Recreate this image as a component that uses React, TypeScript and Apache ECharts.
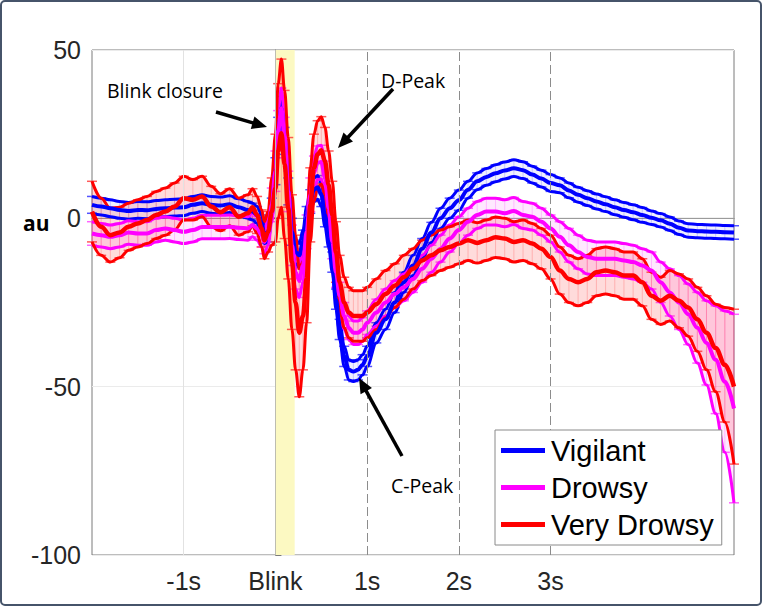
import React, { useEffect, useRef } from 'react';
import * as echarts from 'echarts';

// time axis in seconds relative to blink onset
const times = [
  -2, -1.9, -1.8, -1.7, -1.6, -1.5, -1.4, -1.3, -1.2, -1.1, -1, -0.9, -0.8, -0.7, -0.6, -0.5, -0.4,
  -0.3, -0.25, -0.2, -0.15, -0.12, -0.08, -0.04, 0, 0.03, 0.065, 0.1, 0.14, 0.18, 0.22, 0.26, 0.3,
  0.34, 0.38, 0.42, 0.46, 0.5, 0.54, 0.58, 0.62, 0.66, 0.7, 0.75, 0.8, 0.85, 0.9, 0.95, 1,
  1.1, 1.2, 1.3, 1.4, 1.5, 1.6, 1.7, 1.8, 1.9, 2, 2.1, 2.2, 2.3, 2.4, 2.5, 2.6, 2.7, 2.8, 2.9, 3,
  3.1, 3.2, 3.3, 3.4, 3.5, 3.6, 3.7, 3.8, 3.9, 4, 4.1, 4.2, 4.3, 4.4, 4.5, 4.6, 4.7, 4.8, 4.9, 5,
];

const vigilantMean = [
  4, 3.5, 3, 2.5, 2.2, 2.5, 2.4, 2.8, 3, 3.2, 3.3, 4, 4.5, 4, 3.8, 4.2, 3.3,
  2.5, 2, 1, -1.5, -5, -4, 3, 14, 26, 32.7, 23, 8, -4, -10, -11, -7,
  0, 5, 8.5, 9.2, 7, 1, -5, -13, -24, -33, -41, -45, -45.5, -45, -43.5, -41,
  -34, -30, -25, -19, -14, -9, -4.2, 0, 3, 5.4, 8.5, 11, 12.3, 13.4, 14.2, 14.9, 14.3, 13, 11.8, 10.5,
  9.8, 8.3, 7, 6, 5, 4.2, 3.3, 2.5, 1.8, 1, 0.2, -0.6, -1.6, -2.8, -3.6, -3.8, -3.9, -4, -4.1, -4.2,
];
const vigilantStd = [
  2.5, 2.5, 2.5, 2.5, 2.5, 2.5, 2.5, 2.5, 2.5, 2.5, 2.5, 2.5, 2.5, 2.5, 2.5, 2.5, 2.5,
  2.5, 2.5, 2.5, 2.5, 2.5, 3, 3, 4, 4, 3.5, 4, 4, 4, 3.5, 3.5, 3.5,
  3.5, 3.5, 3.5, 3.5, 3.5, 3.5, 3.5, 3, 3, 3, 3, 3, 3, 3, 3, 3,
  3, 3, 3, 3, 3, 3, 3, 3, 3, 3, 2.5, 2.5, 2.5, 2.5, 2.5, 2.5, 2.5, 2.5, 2.5, 2.5,
  2.2, 2.2, 2.2, 2.2, 2.2, 2.2, 2.2, 2.2, 2.2, 2.2, 2, 2, 2, 2, 2, 2, 2, 2, 2, 2,
];

const drowsyMean = [
  -4.5, -5, -5.5, -5, -4.2, -4.5, -4.5, -3.5, -3, -3.5, -4, -3.5, -2.6, -2.6, -2.6, -2.5, -2.8,
  -3, -2, -3, -5, -7, -4, 4, 14, 26, 32.7, 24, 8, -8, -16, -18.5, -14,
  -4, 7, 13.5, 16.5, 16.7, 12, 3, -7, -16, -23, -29, -32.5, -34, -34, -33, -31,
  -28, -25, -22.5, -20.5, -18, -15, -12, -9, -6, -3.5, -1, 1, 2, 2, 1.5, 2.2, 1, 0.5, -1, -3,
  -5.5, -8, -10, -11.5, -12, -12, -12, -12.5, -13, -14, -15.5, -19, -22, -25, -28.5, -32.5, -37, -42, -48.5, -56.5,
];
const drowsyStd = [
  3.5, 3.5, 3.5, 3.5, 3.5, 3.5, 3.5, 3.5, 3.5, 3.5, 3.5, 3.5, 3.5, 3.5, 3.5, 3.5, 3.5,
  3.5, 3.5, 3.5, 3.5, 3.5, 4, 5, 6, 6, 6, 6, 6, 6, 5, 5, 5,
  5, 5, 5, 5, 5, 5, 5, 5, 4.5, 4, 4, 3.5, 3.5, 3.5, 3.5, 3.5,
  4, 4, 4, 4, 4, 4, 4, 4, 4, 4, 4, 4, 4, 4, 4, 4, 4, 4, 4, 4,
  4.5, 5, 5, 5, 5, 5, 5, 5, 5, 5, 5.5, 6, 7, 8, 9, 10.5, 12.5, 16, 21, 28,
];

const veryDrowsyMean = [
  2, -2.5, -5, -4.2, -2.5, -1.5, -0.5, 1, 2, 3.5, 6, 5.5, 6.5, 3.5, 1.8, 3.3, 0.5,
  1.5, 3.3, 1, -3, -6.5, -4, 2, 9, 20, 25.3, 16, 3, -13, -25, -34, -29,
  -18, 4, 15, 19, 20.2, 17, 10, 1, -10, -19, -25, -28, -29, -29, -29, -28,
  -25.5, -22.5, -20, -17.5, -15, -12.5, -11, -9.5, -8.5, -7.5, -6.5, -7.3, -6.5, -5.6, -6, -7, -6.5, -7.5, -9, -11.5,
  -15.5, -18, -19, -18, -16, -15.5, -16, -17, -17, -19, -23, -24.5, -23, -24.5, -26.5, -30, -34, -38.5, -43.5, -50,
];
const veryDrowsyStd = [
  9, 8.5, 8, 7.5, 7, 7, 7, 7, 7, 7, 6.5, 6, 6, 6, 5.5, 5.5, 5.5,
  5.5, 5.5, 5.5, 5.5, 5.5, 6, 10, 16, 20, 22, 22, 21, 20, 20, 19, 16,
  13, 11, 10, 10, 10, 10, 10, 10, 9, 8, 7.5, 7.5, 7.5, 7.5, 7.5, 7.5,
  7.5, 7, 6.5, 6.5, 6, 6, 6, 6, 6, 6, 6, 6, 6, 6, 6, 6, 6, 6, 6, 6.5,
  7, 7, 7, 7, 7, 7, 7, 7, 7, 7, 7, 7, 7.5, 8, 8.5, 9.5, 11, 13, 17, 23,
];

const xTickValues = [-1, 0, 1, 2, 3];
const xTickLabels = ['-1s', 'Blink', '1s', '2s', '3s'];
const legendNames = ['Vigilant', 'Drowsy', 'Very Drowsy'];

const FONT = "'Liberation Sans', Arial, Helvetica, sans-serif";
const NOTE_FONT = "'Open Sans', 'Noto Sans', sans-serif";

function bandSeries(name: string, mean: number[], std: number[], fill: string, hatch: string, cap: string) {
  const lo = mean.map((m, i) => m - std[i]);
  const hi = mean.map((m, i) => m + std[i]);
  return {
    type: 'custom',
    name: name + ' band',
    silent: true,
    z: 2,
    clip: false,
    data: times.map((t, i) => [t, lo[i], hi[i]]),
    encode: { x: 0, y: [1, 2] },
    renderItem: (params: any, api: any) => {
      const i = params.dataIndex;
      const children: any[] = [];
      if (i === 0) {
        const top = times.map((t, k) => api.coord([t, hi[k]]));
        const bot = times.map((t, k) => api.coord([t, lo[k]])).reverse();
        children.push({
          type: 'polygon',
          shape: { points: top.concat(bot) },
          style: { fill, stroke: 'none' },
        });
      }
      const pHi = api.coord([times[i], hi[i]]);
      const pLo = api.coord([times[i], lo[i]]);
      children.push({
        type: 'line',
        shape: { x1: pHi[0], y1: pHi[1], x2: pLo[0], y2: pLo[1] },
        style: { stroke: hatch, lineWidth: 1 },
      });
      children.push({
        type: 'line',
        shape: { x1: pHi[0] - 5, y1: pHi[1], x2: pHi[0] + 5, y2: pHi[1] },
        style: { stroke: cap, lineWidth: 1.5 },
      });
      children.push({
        type: 'line',
        shape: { x1: pLo[0] - 5, y1: pLo[1], x2: pLo[0] + 5, y2: pLo[1] },
        style: { stroke: cap, lineWidth: 1.5 },
      });
      return { type: 'group', children };
    },
  };
}

function lineSeries(name: string, values: number[], color: string, width: number, z: number) {
  return {
    type: 'line',
    name,
    data: times.map((t, i) => [t, values[i]]),
    showSymbol: false,
    symbol: 'none',
    smooth: 0.35,
    smoothMonotone: 'x',
    color,
    lineStyle: { color, width },
    z,
    silent: true,
  };
}

function groupSeries(
  name: string, mean: number[], std: number[], color: string,
  fill: string, hatch: string, cap: string, meanWidth: number, boundWidth: number,
) {
  const up = mean.map((m, i) => m + std[i]);
  const dn = mean.map((m, i) => m - std[i]);
  return [
    bandSeries(name, mean, std, fill, hatch, cap),
    lineSeries(name + ' upper', up, color, boundWidth, 3),
    lineSeries(name + ' lower', dn, color, boundWidth, 3),
    lineSeries(name, mean, color, meanWidth, 4),
  ];
}

function arrow(x1: number, y1: number, x2: number, y2: number) {
  const dx = x2 - x1;
  const dy = y2 - y1;
  const L = Math.hypot(dx, dy);
  const ux = dx / L;
  const uy = dy / L;
  const hl = 15;
  const hw = 6.5;
  const bx = x2 - ux * hl;
  const by = y2 - uy * hl;
  return [
    { type: 'line', shape: { x1, y1, x2: bx + ux * 2, y2: by + uy * 2 }, style: { stroke: '#000', lineWidth: 3.5 }, z: 100 },
    {
      type: 'polygon',
      shape: { points: [[x2, y2], [bx - uy * hw, by + ux * hw], [bx + uy * hw, by - ux * hw]] },
      style: { fill: '#000' },
      z: 100,
    },
  ];
}

export default function App() {
  const ref = useRef<HTMLDivElement>(null);

  useEffect(() => {
    if (!ref.current) return;
    const chart = echarts.init(ref.current, null, { renderer: 'svg' });

    const refSeries = {
      type: 'line',
      name: 'zero',
      data: [[-2, 0], [5, 0]],
      symbol: 'none',
      lineStyle: { color: '#a3a3a3', width: 1 },
      z: 1,
      silent: true,
      markArea: {
        silent: true,
        itemStyle: { color: '#fcf9c2' },
        data: [[{ xAxis: 0 }, { xAxis: 0.21 }]],
      },
      markLine: {
        silent: true,
        symbol: ['none', 'none'],
        label: { show: false },
        data: [
          { xAxis: -1, lineStyle: { color: '#e2e2e2', type: 'solid', width: 1 } },
          { xAxis: 0, lineStyle: { color: '#bdbdb0', type: 'solid', width: 1 } },
          { xAxis: 1, lineStyle: { color: '#8c8c8c', type: [9, 4], width: 1 } },
          { xAxis: 2, lineStyle: { color: '#8c8c8c', type: [9, 4], width: 1 } },
          { xAxis: 3, lineStyle: { color: '#8c8c8c', type: [9, 4], width: 1 } },
        ],
      },
    };

    const option: any = {
      animation: false,
      backgroundColor: '#fff',
      grid: { left: 92, top: 50, right: 29, bottom: 52, show: true, borderColor: '#7a7a7a', borderWidth: 1 },
      xAxis: {
        type: 'value',
        min: -2,
        max: 5,
        interval: 1,
        axisLine: { show: true, lineStyle: { color: '#7a7a7a' } },
        axisTick: { show: true, inside: true, length: 6, lineStyle: { color: '#7a7a7a' }, customValues: xTickValues },
        axisLabel: {
          customValues: xTickValues,
          formatter: (v: number) => {
            const k = xTickValues.indexOf(Math.round(v * 1000) / 1000);
            return k >= 0 ? xTickLabels[k] : '';
          },
          fontSize: 25,
          color: '#262626',
          fontFamily: FONT,
          margin: 13,
        },
        splitLine: { show: false },
      },
      yAxis: {
        type: 'value',
        min: -100,
        max: 50,
        interval: 50,
        axisLine: { show: true, lineStyle: { color: '#7a7a7a' } },
        axisTick: { show: true, inside: true, length: 6, lineStyle: { color: '#7a7a7a' } },
        axisLabel: { fontSize: 25, color: '#262626', fontFamily: FONT, margin: 11 },
        splitLine: { show: true, lineStyle: { color: '#ebebeb', width: 1 } },
      },
      legend: {
        data: legendNames,
        orient: 'vertical',
        left: 495,
        top: 430,
        icon: 'rect',
        itemWidth: 44,
        itemHeight: 5,
        itemGap: 8,
        padding: [6, 8, 6, 6],
        backgroundColor: '#fff',
        borderColor: '#8a8a8a',
        borderWidth: 1,
        textStyle: { fontSize: 29, color: '#000', fontFamily: FONT, padding: [0, 0, 0, 1] },
        selectedMode: false,
        z: 50,
      },
      series: [
        refSeries,
        ...groupSeries(legendNames[0], vigilantMean, vigilantStd, '#0000ff',
          'rgba(0,0,255,0.06)', 'rgba(80,80,255,0.25)', 'rgba(40,40,255,0.8)', 4, 3),
        ...groupSeries(legendNames[1], drowsyMean, drowsyStd, '#ff00ff',
          'rgba(255,0,255,0.09)', 'rgba(255,80,255,0.3)', 'rgba(255,60,255,0.8)', 4, 3),
        ...groupSeries(legendNames[2], veryDrowsyMean, veryDrowsyStd, '#ff0000',
          'rgba(255,0,0,0.14)', 'rgba(255,80,80,0.3)', 'rgba(255,50,50,0.8)', 4.5, 3),
      ],
      graphic: {
        elements: [
          {
            type: 'rect',
            shape: { x: 1, y: 1, width: 760, height: 604, r: 4 },
            style: { fill: 'none', stroke: '#46546a', lineWidth: 2 },
            z: 100,
            silent: true,
          },
          {
            type: 'text',
            x: 107,
            y: 90,
            style: { text: 'Blink closure', fontSize: 19.5, fontFamily: NOTE_FONT, fill: '#000', verticalAlign: 'middle' },
            z: 100,
          },
          {
            type: 'text',
            x: 381,
            y: 80,
            style: { text: 'D-Peak', fontSize: 19.5, fontFamily: NOTE_FONT, fill: '#000', verticalAlign: 'middle' },
            z: 100,
          },
          {
            type: 'text',
            x: 391,
            y: 485,
            style: { text: 'C-Peak', fontSize: 19.5, fontFamily: NOTE_FONT, fill: '#000', verticalAlign: 'middle' },
            z: 100,
          },
          {
            type: 'text',
            x: 23,
            y: 223,
            style: { text: 'au', fontSize: 21, fontWeight: 'bold', fontFamily: NOTE_FONT, fill: '#000', verticalAlign: 'middle' },
            z: 100,
          },
          ...arrow(216, 112, 267, 127),
          ...arrow(393, 89, 338, 148),
          ...arrow(402, 456, 359, 378),
        ],
      },
    };

    chart.setOption(option);
    return () => chart.dispose();
  }, []);

  return (
    <div
      ref={ref}
      style={{ position: 'fixed', left: 0, top: 0, width: 763, height: 607, background: '#fff' }}
    />
  );
}
